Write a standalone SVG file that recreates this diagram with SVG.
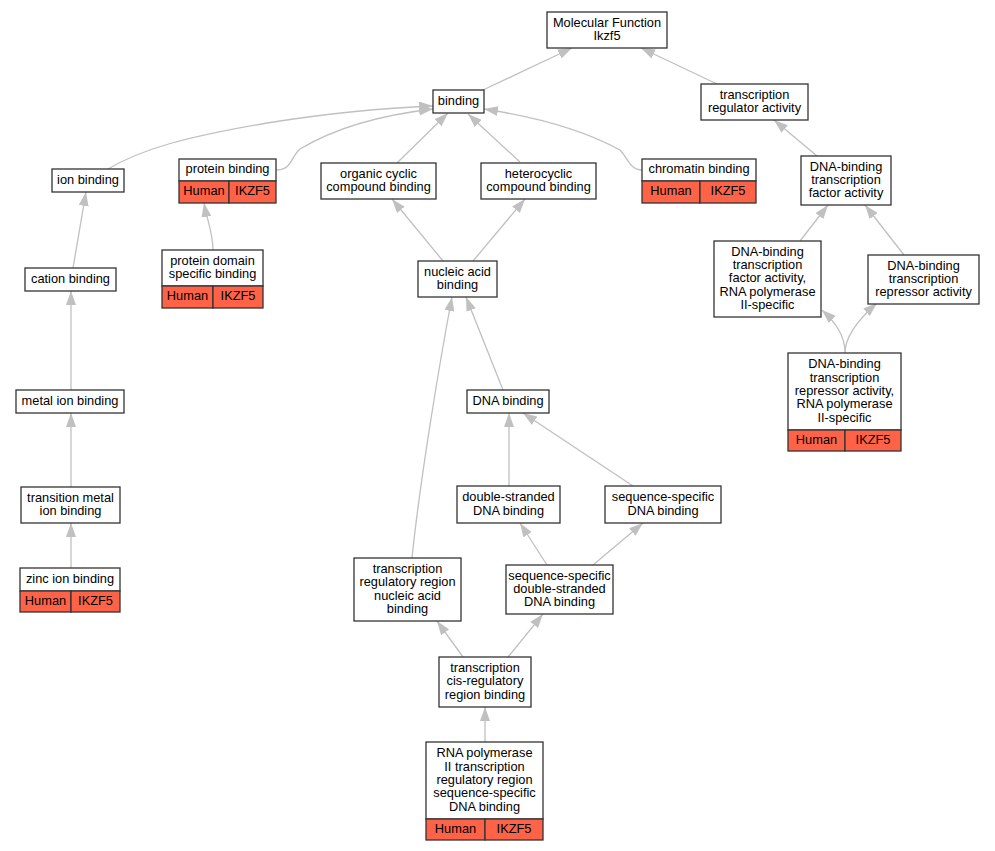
<svg xmlns="http://www.w3.org/2000/svg" width="995" height="851" viewBox="0 0 995 851">
<style>
.n rect{fill:#fff;stroke:#333;stroke-width:1.3}
.n rect.t{fill:#ff6347}
text{font-family:"Liberation Sans",Arial,sans-serif;font-size:12.8px;fill:#000;text-anchor:middle}
.e path{fill:none;stroke:#c0c0c0;stroke-width:1.3;marker-end:url(#ah)}
</style>
<defs>
<marker id="ah" viewBox="0 0 14 10" refX="14" refY="5" markerWidth="14" markerHeight="10" markerUnits="userSpaceOnUse" orient="auto">
<path d="M0,0 L14,5 L0,10 z" fill="#c0c0c0"/>
</marker>
</defs>
<rect width="995" height="851" fill="#fff"/>
<g class="e" id="edges">
<path d="M483,90 L572,48"/>
<path d="M717,84 L641,48"/>
<path d="M108,169 C140,150 180,138 267,123 C330,113 380,108 433,106"/>
<path d="M276,170 C292,170 290,158 300,149 C340,125 390,114 433,109"/>
<path d="M642,170 C630,170 628,158 620,150 C580,128 530,116 484,109"/>
<path d="M397,163 L448,113"/>
<path d="M520,162 L468,114"/>
<path d="M443,261 L392,199"/>
<path d="M473,261 L525,199"/>
<path d="M73,268 L86,192"/>
<path d="M213,250 C213,233 207,220 204,203"/>
<path d="M71,390 L71,291"/>
<path d="M71,487 L71,413"/>
<path d="M71,568 L71,523"/>
<path d="M817,156 L774,120"/>
<path d="M800,241 L828,205"/>
<path d="M904,255 L865,205"/>
<path d="M845,353 C845,335 835,322 822,310"/>
<path d="M845,353 C845,335 860,318 877,303"/>
<path d="M503,390 L466,297"/>
<path d="M412,558 C420,480 440,360 452,297"/>
<path d="M509,486 L509,413"/>
<path d="M633,486 L523,413"/>
<path d="M547,565 L520,523"/>
<path d="M593,565 L643,523"/>
<path d="M463,657 L437,621"/>
<path d="M508,657 L543,614"/>
<path d="M485,742 L485,707"/>
</g>
<g class="n" id="n_mf"><rect x="547" y="12" width="120" height="36"/><text x="607" y="26.75">Molecular Function</text><text x="607" y="40.05">Ikzf5</text></g>
<g class="n" id="n_binding"><rect x="433" y="90" width="51" height="23"/><text x="458.5" y="104.9">binding</text></g>
<g class="n" id="n_tra"><rect x="701" y="84" width="107" height="36"/><text x="754.5" y="98.75">transcription</text><text x="754.5" y="112.05">regulator activity</text></g>
<g class="n" id="n_ion"><rect x="52" y="169" width="72" height="23"/><text x="88" y="183.9">ion binding</text></g>
<g class="n" id="n_protein"><rect x="179" y="159" width="97" height="22"/><text x="227.5" y="173.4">protein binding</text><rect class="t" x="179" y="181" width="50" height="22"/><rect class="t" x="229" y="181" width="47" height="22"/><text x="204" y="195.4">Human</text><text x="252.5" y="195.4">IKZF5</text></g>
<g class="n" id="n_organic"><rect x="321" y="163" width="115" height="36"/><text x="378.5" y="177.75">organic cyclic</text><text x="378.5" y="191.05">compound binding</text></g>
<g class="n" id="n_hetero"><rect x="481" y="163" width="115" height="36"/><text x="538.5" y="177.75">heterocyclic</text><text x="538.5" y="191.05">compound binding</text></g>
<g class="n" id="n_chromatin"><rect x="642" y="159" width="114" height="22"/><text x="699" y="173.4">chromatin binding</text><rect class="t" x="642" y="181" width="58" height="22"/><rect class="t" x="700" y="181" width="56" height="22"/><text x="671" y="195.4">Human</text><text x="728" y="195.4">IKZF5</text></g>
<g class="n" id="n_dtf"><rect x="801" y="156" width="90" height="49"/><text x="846" y="170.6">DNA-binding</text><text x="846" y="183.9">transcription</text><text x="846" y="197.2">factor activity</text></g>
<g class="n" id="n_cation"><rect x="25" y="268" width="91" height="23"/><text x="70.5" y="282.9">cation binding</text></g>
<g class="n" id="n_pdomain"><rect x="162" y="250" width="101" height="36"/><text x="212.5" y="264.75">protein domain</text><text x="212.5" y="278.05">specific binding</text><rect class="t" x="162" y="286" width="51" height="22"/><rect class="t" x="213" y="286" width="50" height="22"/><text x="187.5" y="300.4">Human</text><text x="238" y="300.4">IKZF5</text></g>
<g class="n" id="n_nucleic"><rect x="418" y="261" width="79" height="36"/><text x="457.5" y="275.75">nucleic acid</text><text x="457.5" y="289.05">binding</text></g>
<g class="n" id="n_dtf2"><rect x="714" y="241" width="107" height="76"/><text x="767.5" y="255.8">DNA-binding</text><text x="767.5" y="269.1">transcription</text><text x="767.5" y="282.4">factor activity,</text><text x="767.5" y="295.7">RNA polymerase</text><text x="767.5" y="309">II-specific</text></g>
<g class="n" id="n_rep"><rect x="868" y="255" width="111" height="49"/><text x="923.5" y="269.6">DNA-binding</text><text x="923.5" y="282.9">transcription</text><text x="923.5" y="296.2">repressor activity</text></g>
<g class="n" id="n_rep2"><rect x="788" y="353" width="113" height="77"/><text x="844.5" y="368.3">DNA-binding</text><text x="844.5" y="381.6">transcription</text><text x="844.5" y="394.9">repressor activity,</text><text x="844.5" y="408.2">RNA polymerase</text><text x="844.5" y="421.5">II-specific</text><rect class="t" x="788" y="430" width="57" height="21"/><rect class="t" x="845" y="430" width="56" height="21"/><text x="816.5" y="443.9">Human</text><text x="873" y="443.9">IKZF5</text></g>
<g class="n" id="n_metal"><rect x="16" y="390" width="108" height="23"/><text x="70" y="404.9">metal ion binding</text></g>
<g class="n" id="n_dna"><rect x="467" y="390" width="82" height="23"/><text x="508" y="404.9">DNA binding</text></g>
<g class="n" id="n_trans"><rect x="21" y="487" width="99" height="36"/><text x="70.5" y="501.75">transition metal</text><text x="70.5" y="515.05">ion binding</text></g>
<g class="n" id="n_ds"><rect x="457" y="486" width="103" height="37"/><text x="508.5" y="501.25">double-stranded</text><text x="508.5" y="514.55">DNA binding</text></g>
<g class="n" id="n_ss"><rect x="605" y="486" width="116" height="37"/><text x="663" y="501.25">sequence-specific</text><text x="663" y="514.55">DNA binding</text></g>
<g class="n" id="n_zinc"><rect x="20" y="568" width="100" height="23"/><text x="70" y="582.9">zinc ion binding</text><rect class="t" x="20" y="591" width="51" height="21"/><rect class="t" x="71" y="591" width="49" height="21"/><text x="45.5" y="604.9">Human</text><text x="95.5" y="604.9">IKZF5</text></g>
<g class="n" id="n_trrna"><rect x="354" y="558" width="107" height="63"/><text x="407.5" y="572.95">transcription</text><text x="407.5" y="586.25">regulatory region</text><text x="407.5" y="599.55">nucleic acid</text><text x="407.5" y="612.85">binding</text></g>
<g class="n" id="n_ssds"><rect x="506" y="565" width="107" height="49"/><text x="559.5" y="579.6">sequence-specific</text><text x="559.5" y="592.9">double-stranded</text><text x="559.5" y="606.2">DNA binding</text></g>
<g class="n" id="n_cis"><rect x="439" y="657" width="92" height="50"/><text x="485" y="672.1">transcription</text><text x="485" y="685.4">cis-regulatory</text><text x="485" y="698.7">region binding</text></g>
<g class="n" id="n_rnap"><rect x="426" y="742" width="117" height="77"/><text x="484.5" y="757.3">RNA polymerase</text><text x="484.5" y="770.6">II transcription</text><text x="484.5" y="783.9">regulatory region</text><text x="484.5" y="797.2">sequence-specific</text><text x="484.5" y="810.5">DNA binding</text><rect class="t" x="426" y="819" width="59" height="21"/><rect class="t" x="485" y="819" width="58" height="21"/><text x="455.5" y="832.9">Human</text><text x="514" y="832.9">IKZF5</text></g>
</svg>
